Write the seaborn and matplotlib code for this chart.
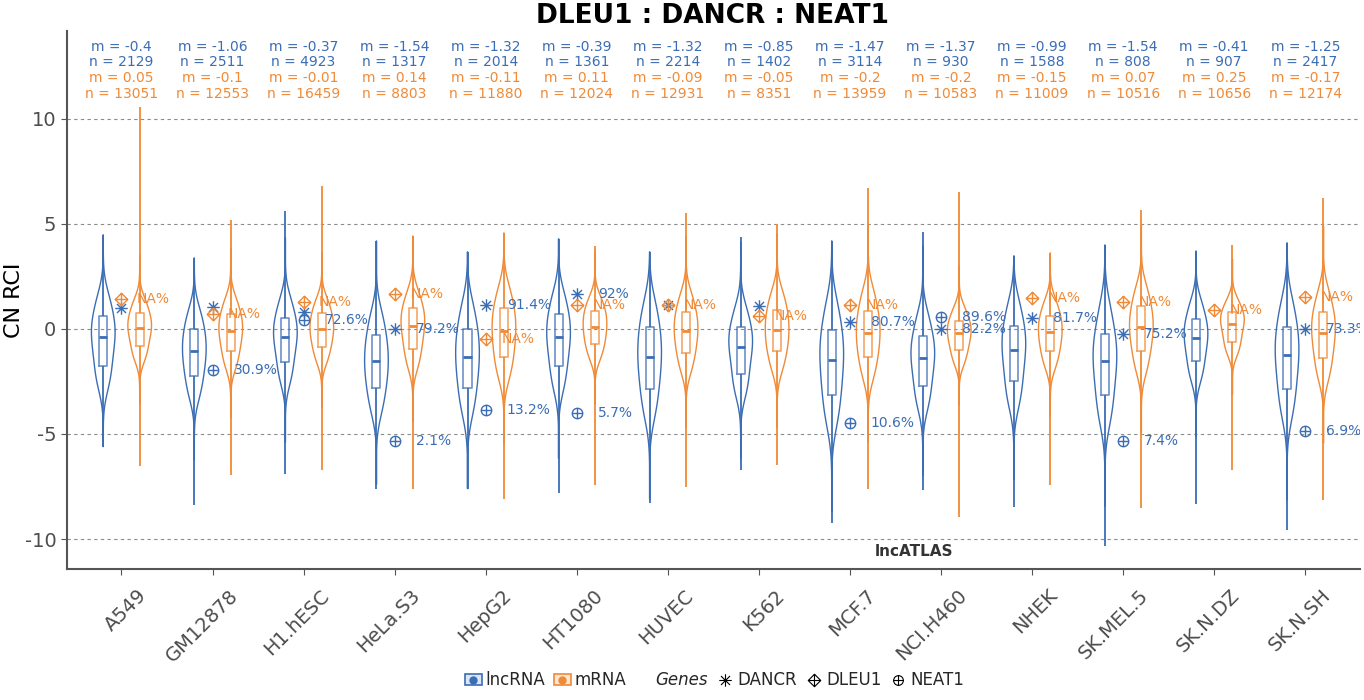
import matplotlib
matplotlib.use("Agg")
import matplotlib.pyplot as plt
import matplotlib.transforms as mtransforms
from matplotlib.path import Path
from matplotlib.patches import Patch
from matplotlib.lines import Line2D
from matplotlib.legend_handler import HandlerTuple
import numpy as np
import pandas as pd
import seaborn as sns

# -------------------------------
# DATA
# -------------------------------
cell_lines = ["A549", "GM12878", "H1.hESC", "HeLa.S3", "HepG2", "HT1080", "HUVEC",
              "K562", "MCF.7", "NCI.H460", "NHEK", "SK.MEL.5", "SK.N.DZ", "SK.N.SH"]

# quantiles: min, p12.5, q1, p37.5, median, p62.5, q3, p87.5, max
lnc_quant = [
    [-5.6, -2.58, -1.75, -1.0, -0.4, 0.1, 0.62, 1.45, 4.48],
    [-8.38, -3.05, -2.24, -1.6, -1.06, -0.55, 0.0, 0.75, 3.38],
    [-6.9, -2.35, -1.57, -0.88, -0.37, 0.08, 0.54, 1.3, 5.62],
    [-7.62, -3.75, -2.83, -2.15, -1.54, -0.95, -0.3, 0.6, 4.19],
    [-7.6, -3.8, -2.8, -2.0, -1.32, -0.65, 0.0, 1.0, 3.67],
    [-7.8, -2.65, -1.75, -1.0, -0.39, 0.15, 0.7, 1.55, 4.29],
    [-8.29, -3.9, -2.86, -2.0, -1.32, -0.6, 0.08, 1.1, 3.67],
    [-6.7, -2.95, -2.16, -1.4, -0.85, -0.35, 0.1, 0.9, 4.38],
    [-9.24, -4.25, -3.16, -2.25, -1.47, -0.75, -0.06, 1.05, 4.19],
    [-7.67, -3.55, -2.71, -1.95, -1.37, -0.85, -0.33, 0.55, 4.62],
    [-8.48, -3.4, -2.49, -1.65, -0.99, -0.4, 0.16, 1.1, 3.48],
    [-10.33, -4.2, -3.16, -2.25, -1.54, -0.85, -0.25, 0.9, 4.0],
    [-8.33, -2.25, -1.54, -0.9, -0.41, 0.02, 0.46, 1.2, 3.71],
    [-9.57, -3.9, -2.86, -1.95, -1.25, -0.55, 0.11, 1.15, 4.1],
]
mrna_quant = [
    [-6.5, -1.35, -0.81, -0.3, 0.05, 0.38, 0.75, 1.3, 10.57],
    [-6.95, -1.7, -1.06, -0.52, -0.1, 0.3, 0.7, 1.32, 5.19],
    [-6.7, -1.45, -0.86, -0.4, -0.01, 0.35, 0.75, 1.32, 6.8],
    [-7.6, -1.65, -0.95, -0.35, 0.14, 0.58, 0.98, 1.65, 4.43],
    [-8.1, -2.15, -1.35, -0.7, -0.11, 0.45, 0.98, 1.8, 4.57],
    [-7.43, -1.3, -0.73, -0.3, 0.11, 0.5, 0.86, 1.4, 3.95],
    [-7.52, -1.85, -1.13, -0.58, -0.09, 0.38, 0.83, 1.55, 5.52],
    [-6.48, -1.8, -1.06, -0.55, -0.05, 0.45, 0.92, 1.65, 5.0],
    [-7.6, -2.15, -1.35, -0.75, -0.2, 0.32, 0.87, 1.7, 6.71],
    [-8.95, -1.55, -1.0, -0.58, -0.2, 0.1, 0.4, 0.95, 6.52],
    [-7.43, -1.7, -1.06, -0.6, -0.15, 0.25, 0.63, 1.25, 3.62],
    [-8.52, -1.85, -1.06, -0.45, 0.07, 0.55, 1.08, 1.85, 5.67],
    [-6.7, -1.1, -0.6, -0.15, 0.25, 0.55, 0.8, 1.3, 4.0],
    [-8.14, -2.2, -1.4, -0.72, -0.17, 0.35, 0.83, 1.65, 6.24],
]

lnc_m = [-0.4, -1.06, -0.37, -1.54, -1.32, -0.39, -1.32, -0.85, -1.47, -1.37, -0.99, -1.54, -0.41, -1.25]
lnc_n = [2129, 2511, 4923, 1317, 2014, 1361, 2214, 1402, 3114, 930, 1588, 808, 907, 2417]
mrna_m = [0.05, -0.1, -0.01, 0.14, -0.11, 0.11, -0.09, -0.05, -0.2, -0.2, -0.15, 0.07, 0.25, -0.17]
mrna_n = [13051, 12553, 16459, 8803, 11880, 12024, 12931, 8351, 13959, 10583, 11009, 10516, 10656, 12174]

# highlighted genes (None = not shown)
dancr_y = [1.0, 1.05, 0.8, 0.0, 1.14, 1.67, 1.14, 1.1, 0.33, 0.01, 0.54, -0.24, None, 0.0]
dancr_lab = [None, None, None, "79.2%", "91.4%", "92%", None, None, "80.7%", "82.2%", "81.7%", "75.2%", None, "73.3%"]
dleu1_y = [1.43, 0.7, 1.3, 1.67, -0.48, 1.14, 1.14, 0.62, 1.12, None, 1.47, 1.3, 0.9, 1.52]
dleu1_lab = ["NA%", "NA%", "NA%", "NA%", "NA%", "NA%", "NA%", "NA%", "NA%", None, "NA%", "NA%", "NA%", "NA%"]
neat1_y = [None, -1.95, 0.43, -5.33, -3.86, -4.0, None, None, -4.46, 0.59, None, -5.33, None, -4.84]
neat1_lab = [None, "30.9%", "72.6%", "2.1%", "13.2%", "5.7%", None, None, "10.6%", "89.6%", None, "7.4%", None, "6.9%"]

BLUE = "#3b6db4"
ORANGE = "#f08a36"

# -------------------------------
# long table for seaborn
# -------------------------------
rows = []
for i, cl in enumerate(cell_lines):
    for cls, q in (("lncRNA", lnc_quant[i]), ("mRNA", mrna_quant[i])):
        for k, v in enumerate(q):
            part = "end" if k in (0, len(q) - 1) else "inner"
            rows.append((cl, cls, v, part))
df = pd.DataFrame(rows, columns=["cell", "class", "cn_rci", "part"])

# marker shapes like ggplot's 8 / 9 / 10
plus = [(0, 1), (0, -1), (-1, 0), (1, 0)]
plus_codes = [Path.MOVETO, Path.LINETO, Path.MOVETO, Path.LINETO]
asterisk = Path(plus + [(-0.72, -0.72), (0.72, 0.72), (-0.72, 0.72), (0.72, -0.72)], plus_codes * 2)
diamond_plus = Path.make_compound_path(
    Path([(0, 1), (1, 0), (0, -1), (-1, 0), (0, 1)], closed=True), Path(plus, plus_codes))
circle_plus = Path.make_compound_path(Path.unit_circle(), Path(plus, plus_codes))

sns.set_style("white")
plt.rcParams["font.family"] = ["DejaVu Sans"]

fig = plt.figure(figsize=(13.64, 7.0), dpi=100)
ax = fig.add_axes([0.049, 0.187, 0.948, 0.769])

pal = {"lncRNA": BLUE, "mRNA": ORANGE}
# violin body from the inner quantiles, tails tapering along the whiskers
n_before = len(ax.collections)
sns.violinplot(data=df[df["part"] == "inner"], x="cell", y="cn_rci", hue="class", order=cell_lines,
               hue_order=["lncRNA", "mRNA"], palette=pal, saturation=1, fill=False, inner=None,
               cut=4.5, bw_adjust=0.8, density_norm="width", width=0.8, gap=0.35, linewidth=1.0,
               legend=False, ax=ax)
# trim violin tails to each group's observed min / max
for coll in ax.collections[n_before:]:
    new_verts = []
    for p in coll.get_paths():
        v = np.array(p.vertices, dtype=float)
        xc = np.nanmean(v[:, 0])
        i = int(round(xc))
        q = lnc_quant[i] if xc < i else mrna_quant[i]
        v[:, 1] = np.clip(v[:, 1], q[0], q[-1])
        new_verts.append(v)
    coll.set_verts(new_verts)

sns.boxplot(data=df, x="cell", y="cn_rci", hue="class", order=cell_lines, hue_order=["lncRNA", "mRNA"],
            palette=pal, saturation=1, fill=False, whis=(0, 100), showfliers=False, showcaps=False,
            width=0.8, gap=0.78, linewidth=1.2, legend=False, ax=ax,
            boxprops={"alpha": 0.75},
            medianprops={"linewidth": 2.0}, whiskerprops={"linewidth": 1.3})

# gene markers + labels
for ys, labs, mk, col, dx in [(dancr_y, dancr_lab, asterisk, BLUE, 0.23),
                               (dleu1_y, dleu1_lab, diamond_plus, ORANGE, 0.17),
                               (neat1_y, neat1_lab, circle_plus, BLUE, 0.23)]:
    xs = [i for i, y in enumerate(ys) if y is not None]
    yv = [y for y in ys if y is not None]
    ax.plot(xs, yv, linestyle="none", marker=mk, markersize=9 if mk is not circle_plus else 7.5,
            markerfacecolor="none", markeredgecolor=col, markeredgewidth=1.0, zorder=5)
    for i, y in enumerate(ys):
        if y is not None and labs[i]:
            ax.text(i + dx, y, labs[i], color=col, fontsize=10, va="center", ha="left",
                    clip_on=True, zorder=6)

# m / n summaries at the top
for i in range(len(cell_lines)):
    ax.text(i, 13.43, f"m = {lnc_m[i]}", color=BLUE, fontsize=10, ha="center", va="center")
    ax.text(i, 12.71, f"n = {lnc_n[i]}", color=BLUE, fontsize=10, ha="center", va="center")
    ax.text(i, 11.95, f"m = {mrna_m[i]}", color=ORANGE, fontsize=10, ha="center", va="center")
    ax.text(i, 11.19, f"n = {mrna_n[i]}", color=ORANGE, fontsize=10, ha="center", va="center")

ax.text(8.7, -10.57, "lncATLAS", color="#333333", fontsize=11, fontweight="bold", ha="center", va="center")

ax.set_xlim(-0.6, 13.6)
ax.set_ylim(-11.43, 14.19)
ax.set_yticks([-10, -5, 0, 5, 10])
ax.set_yticklabels(["-10", "-5", "0", "5", "10"])
ax.yaxis.grid(True, linestyle=(0, (3, 3)), color="#8c8c8c", linewidth=0.8)
ax.xaxis.grid(False)
ax.set_axisbelow(True)
ax.set_xlabel("")
ax.set_ylabel("CN RCI", fontsize=16, color="black")
ax.yaxis.set_label_coords(-0.033, 0.5)
fig.text(0.522, 0.977, "DLEU1 : DANCR : NEAT1", fontsize=19, fontweight="bold", color="black",
         ha="center", va="center")

for s in ["top", "right"]:
    ax.spines[s].set_visible(False)
for s in ["left", "bottom"]:
    ax.spines[s].set_color("#555555")
    ax.spines[s].set_linewidth(1.5)

ax.tick_params(axis="y", labelsize=14, labelcolor="#4d4d4d", length=4, color="#555555", left=True)
ax.tick_params(axis="x", labelsize=14, labelcolor="#4d4d4d", length=4, color="#555555", bottom=True, pad=8)
offset = mtransforms.ScaledTranslation(0.16, 0, fig.dpi_scale_trans)
for lab in ax.get_xticklabels():
    lab.set_rotation(45)
    lab.set_ha("right")
    lab.set_va("top")
    lab.set_rotation_mode("anchor")
    lab.set_transform(lab.get_transform() + offset)

# legend
h_lnc = (Patch(facecolor="#dbe5f3", edgecolor=BLUE, linewidth=1.2),
         Line2D([], [], marker="o", color=BLUE, linestyle="none", markersize=5))
h_mrna = (Patch(facecolor="#fde5d0", edgecolor=ORANGE, linewidth=1.2),
          Line2D([], [], marker="o", color=ORANGE, linestyle="none", markersize=5))
h_blank = Line2D([], [], linestyle="none")
h_dancr = Line2D([], [], marker=asterisk, linestyle="none", markersize=9, markerfacecolor="none",
                 markeredgecolor="black", markeredgewidth=0.8)
h_dleu1 = Line2D([], [], marker=diamond_plus, linestyle="none", markersize=9, markerfacecolor="none",
                 markeredgecolor="black", markeredgewidth=0.8)
h_neat1 = Line2D([], [], marker=circle_plus, linestyle="none", markersize=7, markerfacecolor="none",
                 markeredgecolor="black", markeredgewidth=0.8)
leg = fig.legend([h_lnc, h_mrna, h_blank, h_dancr, h_dleu1, h_neat1],
                 ["lncRNA", "mRNA", "Genes", "DANCR", "DLEU1", "NEAT1"],
                 handler_map={tuple: HandlerTuple(ndivide=1)},
                 loc="center", bbox_to_anchor=(0.524, 0.028), ncol=6, frameon=False, fontsize=12,
                 handlelength=1.0, handletextpad=0.25, columnspacing=0.5)
leg.get_texts()[2].set_fontstyle("italic")

fig.savefig("out.png", dpi=100)
